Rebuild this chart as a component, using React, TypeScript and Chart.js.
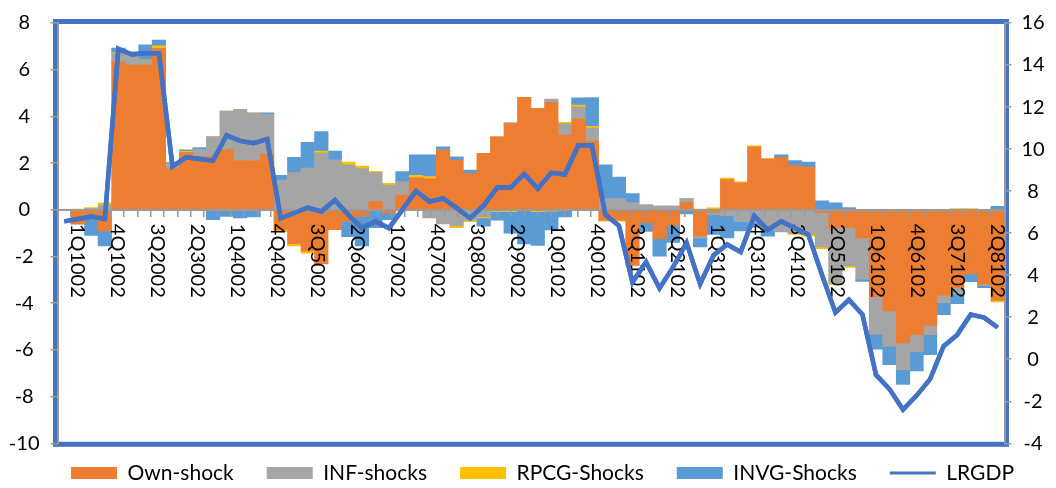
import { useEffect, useRef } from 'react';
import { Chart, registerables, CategoryScale } from 'chart.js';

Chart.register(...registerables);

// Category scale whose 90° labels read top-to-bottom, starting just under the axis
class DownLabelScale extends CategoryScale {
  static id = 'downlabels';
  static defaults = CategoryScale.defaults;
  _computeLabelItems(chartArea: any) {
    const items = (super._computeLabelItems as any).call(this, chartArea);
    for (const it of items) it.options.textAlign = 'left';
    return items;
  }
}
Chart.register(DownLabelScale as any);

// ---- tick labels of the category axis (every third one is shown) ----
const tickLabels = [
  '',
  '1Q1002', '2Q1002', '3Q1002', '4Q1002',
  '1Q2002', '2Q2002', '3Q2002', '4Q2002',
  '1Q3002', '2Q3002', '3Q3002', '4Q3002',
  '1Q4002', '2Q4002', '3Q4002', '4Q4002',
  '1Q5002', '2Q5002', '3Q5002', '4Q5002',
  '1Q6002', '2Q6002', '3Q6002', '4Q6002',
  '1Q7002', '2Q7002', '3Q7002', '4Q7002',
  '1Q8002', '2Q8002', '3Q8002', '4Q8002',
  '1Q9002', '2Q9002', '3Q9002', '4Q9002',
  '1Q0102', '2Q0102', '3Q0102', '4Q0102',
  '1Q1102', '2Q1102', '3Q1102', '4Q1102',
  '1Q2102', '2Q2102', '3Q2102', '4Q2102',
  '1Q3102', '2Q3102', '3Q3102', '4Q3102',
  '1Q4102', '2Q4102', '3Q4102', '4Q4102',
  '1Q5102', '2Q5102', '3Q5102', '4Q5102',
  '1Q6102', '2Q6102', '3Q6102', '4Q6102',
  '1Q7102', '2Q7102', '3Q7102', '4Q7102',
  '1Q8102', '2Q8102',
];

// ---- series (70 plotted periods) ----
const ownShock = [
  0, -0.6, -0.25, -0.9, 6.35, 6.2, 6.2, 6.9, 1.75, 2.45,
  2.28, 2.28, 2.58, 2.11, 2.11, 2.39, -0.85, -1.45, -1.76, -2.32,
  -0.85, -0.5, -0.28, 0.35, -0.14, 0.63, 1.37, 1.34, 2.56, 2.13,
  1.56, 2.42, 3.13, 3.68, 4.82, 4.35, 4.59, 3.2, 3.89, 2.94,
  -0.46, -0.44, -2.38, -0.55, -1.24, -0.65, 0.31, -1.11, -0.1, 1.29,
  1.15, 2.7, 2.18, 2.25, 1.9, 1.83, -0.11, -0.78, -0.75, -1.2,
  -3.72, -4.33, -5.7, -5.35, -4.95, -3.67, -3.33, -2.75, -3.2, -3.87,
];
const infShocks = [
  0, 0, 0.05, 0.2, 0.35, 0.45, 0.2, 0.02, 0.27, 0,
  0.32, 0.86, 1.65, 2.19, 2.04, 1.69, 1.27, 1.59, 1.79, 2.44,
  2.14, 1.93, 1.76, 1.24, 1.06, 0.56, 0, -0.35, -0.6, -0.69,
  -0.46, -0.3, 0, 0.05, 0, 0, 0.15, 0.48, 0.52, 0.56,
  0.48, 0.48, 0.31, 0.22, 0.17, 0.17, 0.17, -0.1, -0.1, -0.25,
  -0.5, -0.55, -0.85, -0.95, -1.0, -1.05, -1.48, -2.35, -1.65, -1.76,
  -1.6, -1.5, -1.13, -0.7, -0.4, -0.3, -0.27, 0, -0.05, 0,
];
const rpcgShocks = [
  0, 0.02, 0.05, 0.1, 0.03, 0.02, 0.02, 0.1, 0, 0.05,
  -0.04, 0, 0, 0, 0, 0, -0.09, -0.1, -0.1, 0.07,
  0, 0.11, 0.11, 0.06, 0.07, 0, 0.11, 0.08, 0, -0.07,
  -0.05, -0.05, -0.08, -0.08, 0, -0.08, -0.06, 0.07, 0.07, 0.07,
  -0.03, -0.05, 0, 0, 0, 0, 0, 0.03, 0.08, 0.07,
  0.05, 0.04, 0, 0, -0.05, -0.08, -0.07, -0.07, -0.07, 0,
  0, 0, 0, 0, 0, 0, 0.05, 0.05, 0, -0.07,
];
const invgShocks = [
  0, 0, -0.85, -0.65, 0.2, 0.1, 0.65, 0.25, 0, 0.07,
  0.06, -0.42, -0.28, -0.35, -0.3, 0.07, 0.21, 0.66, 1.1, 0.84,
  0.37, -0.65, -1.27, -0.77, -0.28, 0.45, 0.87, 0.93, 0.14, 0.14,
  0.14, -0.35, -0.36, -0.92, -1.46, -1.45, -0.8, -0.3, 0.32, 1.24,
  1.45, 0.92, 0.38, -0.38, -0.75, -0.75, -0.18, -0.38, -0.85, -0.95,
  -0.4, -0.2, -0.28, 0.1, 0.21, 0.21, 0.38, 0.3, 0.1, -0.11,
  -0.65, -0.8, -0.65, -0.85, -0.85, -0.52, -0.42, -0.33, -0.08, 0.15,
];
const lrgdp = [
  6.56, 6.67, 6.79, 6.68, 14.77, 14.5, 14.56, 14.56, 9.18, 9.61,
  9.53, 9.45, 10.65, 10.39, 10.28, 10.47, 6.71, 6.96, 7.21, 7.03,
  7.57, 6.87, 6.24, 6.56, 6.24, 7.12, 8.01, 7.5, 7.65, 7.2,
  6.71, 7.32, 8.17, 8.17, 8.82, 8.12, 8.87, 8.79, 10.18, 10.18,
  6.87, 6.35, 3.66, 4.63, 3.38, 4.38, 5.54, 3.58, 4.95, 5.46,
  5.1, 6.82, 6.16, 6.56, 6.24, 5.93, 4.03, 2.22, 2.83, 2.13,
  -0.74, -1.42, -2.4, -1.73, -0.95, 0.62, 1.16, 2.13, 1.98, 1.51,
];
const periods = lrgdp.map((_, i) => 'P' + (i + 1));

const FONT = 'Lato';
const AXIS_GREY = '#9a9a9a';
const LEGEND_BAND = 44.7;
const LEGEND_TEXT_Y = 473;
const LEGEND_FONT = 21;
const LEGEND_PAD = 33;

const framePlugin = {
  id: 'blueFrame',
  beforeDraw(chart: any) {
    const { ctx, chartArea: a } = chart;
    ctx.save();
    ctx.strokeStyle = '#4472C4';
    ctx.lineWidth = 5;
    ctx.strokeRect(a.left - 2, a.top - 1.5, a.right - a.left + 4, a.bottom - a.top + 2.5);
    ctx.restore();
  },
};

const legendPlacement = {
  id: 'legendPlacement',
  beforeLayout(chart: any) {
    const lg = chart.legend;
    if (lg && !lg.__patched) {
      const origFit = lg.fit.bind(lg);
      lg.fit = () => {
        origFit();
        lg.height = LEGEND_BAND;
      };
      lg.__patched = true;
    }
  },
  afterLayout(chart: any) {
    const lg = chart.legend;
    if (!lg) return;
    lg.top = LEGEND_TEXT_Y - LEGEND_FONT / 2 - LEGEND_PAD;
    lg.bottom = chart.height;
    lg.left = 29;
    lg.right = 1056;
  },
};

const lineOnTop = {
  id: 'lineOnTop',
  afterDraw(chart: any) {
    const meta = chart.getDatasetMeta(4);
    if (meta && meta.controller && !meta.hidden) {
      chart.ctx.save();
      meta.controller.draw();
      chart.ctx.restore();
    }
  },
};

function buildConfig(): any {
  const barBase = {
    type: 'bar',
    xAxisID: 'x',
    yAxisID: 'y',
    stack: 'shocks',
    order: 1,
    categoryPercentage: 1,
    barPercentage: 1,
    borderWidth: 0,
    pointStyle: 'rect',
  };
  return {
    type: 'bar',
    data: {
      labels: periods,
      datasets: [
        { ...barBase, label: 'Own-shock', data: ownShock, backgroundColor: '#ED7D31' },
        { ...barBase, label: 'INF-shocks', data: infShocks, backgroundColor: '#A5A5A5' },
        { ...barBase, label: 'RPCG-Shocks', data: rpcgShocks, backgroundColor: '#FFC000' },
        { ...barBase, label: 'INVG-Shocks', data: invgShocks, backgroundColor: '#5B9BD5' },
        {
          type: 'line',
          label: 'LRGDP',
          data: lrgdp,
          xAxisID: 'x',
          yAxisID: 'y2',
          order: 0,
          borderColor: '#4472C4',
          backgroundColor: '#4472C4',
          borderWidth: 4.5,
          pointRadius: 0,
          pointHoverRadius: 0,
          pointStyle: 'line',
          tension: 0,
          fill: false,
          borderJoinStyle: 'miter',
        },
      ],
    },
    options: {
      responsive: false,
      animation: false,
      devicePixelRatio: 1,
      layout: { padding: { top: 17, left: 0, right: 0, bottom: 0 } },
      plugins: {
        tooltip: { enabled: false },
        legend: {
          position: 'bottom',
          labels: {
            usePointStyle: true,
            pointStyleWidth: 46,
            boxHeight: 12,
            padding: LEGEND_PAD,
            color: '#000',
            font: { family: FONT, size: LEGEND_FONT },
            sort: (a: any, b: any) => a.datasetIndex - b.datasetIndex,
            generateLabels: (chart: any) => {
              const items = (Chart.defaults.plugins.legend.labels as any).generateLabels(chart);
              items.forEach((it: any) => {
                it.lineWidth = it.pointStyle === 'line' ? 3 : 0;
              });
              return items;
            },
          },
        },
      },
      scales: {
        x: {
          type: 'category',
          display: false,
          stacked: true,
          offset: true,
        },
        xl: {
          type: 'downlabels',
          axis: 'x',
          labels: tickLabels,
          position: { y: 0 },
          offset: true,
          grid: {
            display: true,
            drawOnChartArea: false,
            drawTicks: true,
            tickLength: 6,
            offset: true,
            color: AXIS_GREY,
            lineWidth: 1.5,
            z: 1,
          },
          border: { display: true, color: AXIS_GREY, width: 2, z: 1 },
          ticks: {
            autoSkip: false,
            minRotation: -90,
            maxRotation: -90,
            padding: 8,
            z: 1,
            color: '#000',
            font: { family: FONT, size: 20 },
            callback: (_v: any, i: number) => (i % 3 === 1 ? tickLabels[i] : ''),
          },
        },
        y: {
          type: 'linear',
          position: 'left',
          min: -10,
          max: 8,
          stacked: true,
          grid: { drawOnChartArea: false, drawTicks: true, tickLength: 7, color: AXIS_GREY, lineWidth: 1.5 },
          border: { display: true, color: AXIS_GREY, width: 2 },
          ticks: {
            stepSize: 2,
            crossAlign: 'center',
            padding: 11,
            color: '#000',
            font: { family: FONT, size: 20 },
          },
          afterFit: (s: any) => {
            s.width = 57.5;
          },
        },
        y2: {
          type: 'linear',
          position: 'right',
          min: -4,
          max: 16,
          grid: { drawOnChartArea: false, drawTicks: true, tickLength: 7, color: AXIS_GREY, lineWidth: 1.5 },
          border: { display: true, color: AXIS_GREY, width: 2 },
          ticks: {
            stepSize: 2,
            crossAlign: 'center',
            padding: 10,
            color: '#000',
            font: { family: FONT, size: 20 },
          },
          afterFit: (s: any) => {
            s.width = 51.5;
          },
        },
      },
    },
    plugins: [framePlugin, legendPlacement, lineOnTop],
  };
}

export default function App() {
  const canvasRef = useRef<HTMLCanvasElement>(null);
  useEffect(() => {
    if (!canvasRef.current) return;
    const chart = new Chart(canvasRef.current, buildConfig());
    return () => chart.destroy();
  }, []);
  return (
    <div style={{ position: 'fixed', left: 0, top: 0, width: 1056, height: 488, background: '#fff' }}>
      <canvas ref={canvasRef} width={1056} height={488} style={{ display: 'block', width: 1056, height: 488 }} />
    </div>
  );
}
